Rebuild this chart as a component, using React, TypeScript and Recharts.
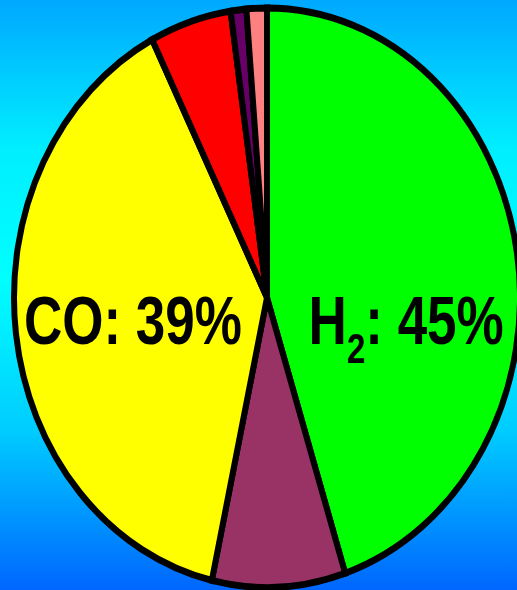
import { PieChart, Pie, Cell } from "recharts";

const gases = ["H2", "CO2", "CO", "CH4", "N2", "Other"];
const shares = [45, 8.5, 39, 5.2, 1.0, 1.3];
const colors = ["#00FF00", "#993366", "#FFFF00", "#FF0000", "#660066", "#FF8080"];
const labeled = ["H2", "CO"];

const data = gases.map((g, i) => ({ name: g, value: shares[i] }));

const STRETCH = 1.145;

function renderLabel(props: any) {
  const { cx, cy, outerRadius, midAngle, name, value } = props;
  if (!labeled.includes(name)) return null;
  const right = Math.cos((-midAngle * Math.PI) / 180) >= 0;
  const x = cx + (right ? 0.55 : -0.53) * outerRadius;
  const y = cy + 0.16 * outerRadius;
  const style = {
    fontFamily: "'Liberation Sans', Arial, sans-serif",
    fontWeight: 700,
    fontSize: 53,
  };
  const tf = `translate(${x},${y}) scale(1,1.12)`;
  if (name === "H2") {
    return (
      <text x={0} y={0} transform={tf} textAnchor="middle" fill="#000" style={style}>
        H
        <tspan fontSize={33} dy={15}>2</tspan>
        <tspan dy={-15}>: {Math.round(value)}%</tspan>
      </text>
    );
  }
  return (
    <text x={0} y={0} transform={tf} textAnchor="middle" fill="#000" style={style}>
      {name}: {Math.round(value)}%
    </text>
  );
}

export default function App() {
  return (
    <div
      style={{
        position: "fixed",
        left: 0,
        top: 0,
        width: 517,
        height: 590,
        overflow: "hidden",
        background:
          "linear-gradient(to bottom, #00A8FF 0%, #00EEFF 25%, #00FFFF 47%, #00CCFF 73%, #0066FF 100%)",
      }}
    >
      <div style={{ transform: `scaleY(${STRETCH})`, transformOrigin: "0 0" }}>
        <PieChart width={517} height={522}>
          <Pie
            data={data}
            dataKey="value"
            cx={262}
            cy={255}
            outerRadius={253}
            startAngle={90}
            endAngle={-270}
            stroke="#000"
            strokeWidth={6}
            label={renderLabel}
            labelLine={false}
            isAnimationActive={false}
          >
            {data.map((d, i) => (
              <Cell key={d.name} fill={colors[i]} />
            ))}
          </Pie>
        </PieChart>
      </div>
    </div>
  );
}
